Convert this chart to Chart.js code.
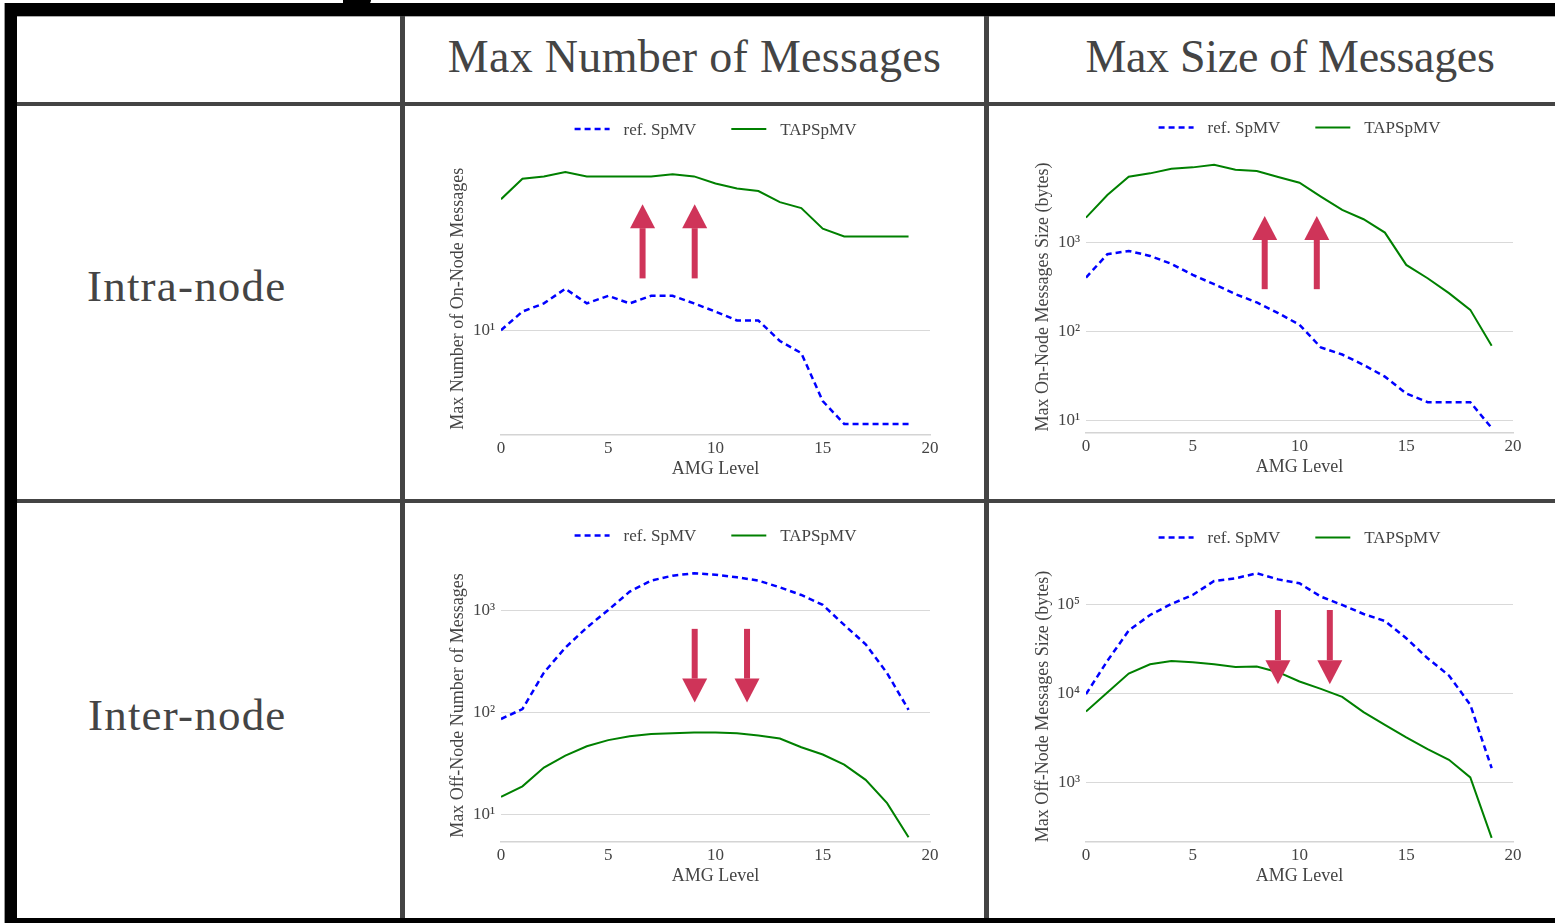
<!DOCTYPE html>
<html>
<head>
<meta charset="utf-8">
<script src="https://cdn.jsdelivr.net/npm/chart.js@4.4.1/dist/chart.umd.min.js"></script>
<style>
  html, body { margin:0; padding:0; background:#fff; }
  body { width:1555px; height:923px; position:relative; overflow:hidden; font-family:"Liberation Serif","Times New Roman",serif; }
  .bar { position:absolute; background:#000; }
  .ln { position:absolute; background:#444; }
  .txt { position:absolute; color:#444; white-space:nowrap; line-height:1; }
  .cv { position:absolute; }
</style>
</head>
<body>
<!-- frame -->
<div class="ln" style="left:4px;top:3px;width:1px;height:920px;background:#999"></div>
<div class="bar" style="left:5px;top:3px;width:1550px;height:13px"></div>
<div class="ln" style="left:17px;top:16px;width:1538px;height:1px;background:#aaa"></div>
<div class="bar" style="left:5px;top:3px;width:12px;height:920px"></div>
<div class="bar" style="left:343px;top:0px;width:28px;height:6px;border-radius:0 0 14px 6px"></div>
<div class="bar" style="left:5px;top:918px;width:1550px;height:5px"></div>
<div class="ln" style="left:400px;top:16px;width:5px;height:902px"></div>
<div class="ln" style="left:984px;top:16px;width:5px;height:902px"></div>
<div class="ln" style="left:17px;top:102px;width:1538px;height:4px"></div>
<div class="ln" style="left:17px;top:499px;width:1538px;height:4px"></div>

<div class="txt" id="h1" style="font-size:46px;top:34px;left:405px;width:579px;text-align:center;letter-spacing:0.3px">Max Number of Messages</div>
<div class="txt" id="h2" style="font-size:46px;top:34px;left:989px;width:602px;text-align:center;letter-spacing:-0.3px">Max Size of Messages</div>
<div class="txt" style="font-size:45px;top:264px;left:87px;letter-spacing:1.2px">Intra-node</div>
<div class="txt" style="font-size:45px;top:693px;left:88px;letter-spacing:1.2px">Inter-node</div>

<div class="cv" style="left:410px;top:108px"><canvas id="c1" width="570" height="390"></canvas></div>
<div class="cv" style="left:992px;top:108px"><canvas id="c2" width="560" height="388"></canvas></div>
<div class="cv" style="left:410px;top:505px"><canvas id="c3" width="570" height="400"></canvas></div>
<div class="cv" style="left:992px;top:505px"><canvas id="c4" width="560" height="400"></canvas></div>

<script>
// ---------------- data ----------------
const levels = [0,1,2,3,4,5,6,7,8,9,10,11,12,13,14,15,16,17,18,19];
const seriesNames = ['ref. SpMV', 'TAPSpMV'];
const xTicks = [0, 5, 10, 15, 20];
const xTitle = 'AMG Level';

// Intra-node, max number of messages
const intraNumRef = [10,12,13,15,13,14,13,14,14,13,12,11,11,9,8,5,4,4,4,4];
const intraNumTap = [36,44,45,47,45,45,45,45,46,45,42,40,39,35,33,27,25,25,25,25];
// Intra-node, max size of messages (bytes)
const intraSizeRef = [404,740,806,708,576,433,340,263,212,161,119,66,55,42,31,20,16,16,16,8.2];
const intraSizeTap = [1909,3433,5517,6012,6780,7020,7520,6610,6390,5470,4720,3290,2330,1830,1295,561,397,270,175,69];
// Inter-node, max number of messages
const interNumRef = [87,109,248,437,687,1023,1548,1983,2220,2340,2270,2140,1983,1706,1435,1146,729,471,245,107];
const interNumTap = [15,19,29,38,47,54,59,62,63,64,64,63,60,56,46,39,31,22,13,6];
// Inter-node, max size of messages (bytes)
const interSizeRef = [9790,23130,50700,75900,100900,127300,182700,195800,222900,190600,172100,121900,98400,77900,65000,41600,24800,15850,7430,1448];
const interSizeTap = [6255,10210,16680,21230,23130,22370,21230,19820,19990,17280,13590,11230,9140,6150,4430,3197,2364,1796,1138,238];

const yTitles = ['Max Number of On-Node Messages', 'Max On-Node Messages Size (bytes)',
                 'Max Off-Node Number of Messages', 'Max Off-Node Messages Size (bytes)'];
const yTicks1 = [10];
const yTicks2 = [10, 100, 1000];
const yTicks3 = [10, 100, 1000];
const yTicks4 = [1000, 10000, 100000];
const yRange1 = [3.59, 51.5];
const yRange2 = [7.2, 8280];
const yRange3 = [5.4, 2580];
const yRange4 = [214, 236600];
// annotation arrows in data coordinates: [level, fromValue, toValue]
const arrows1 = [[6.6, 16.6, 34.3], [9.03, 16.6, 34.3]];
const arrows2 = [[8.37, 299, 1995], [10.81, 299, 1995]];
const arrows3 = [[9.03, 667, 126], [11.47, 667, 126]];
const arrows4 = [[8.99, 86300, 12680], [11.42, 86300, 12680]];

// ---------------- rendering ----------------
const FONT = '"Liberation Serif", "Times New Roman", serif';
const TXT = '#444';
const SUP = {'0':'\u2070','1':'\u00b9','2':'\u00b2','3':'\u00b3','4':'\u2074','5':'\u2075','6':'\u2076','7':'\u2077','8':'\u2078','9':'\u2079'};
function decadeLabel(v) {
  const e = Math.round(Math.log10(v));
  return '10' + String(e).split('').map(c => SUP[c] || c).join('');
}

const arrowPlugin = {
  id: 'annoArrows',
  afterDatasetsDraw(chart, args, opts) {
    const {ctx, scales: {x, y}} = chart;
    ctx.save();
    ctx.fillStyle = '#CF3459';
    (opts.list || []).forEach(a => {
      const px = x.getPixelForValue(a[0]);
      const yTail = y.getPixelForValue(a[1]);
      const yTip = y.getPixelForValue(a[2]);
      const dir = Math.sign(yTip - yTail);
      const headLen = 24, headW = 25, shaftW = 6;
      const base = yTip - dir * headLen;
      ctx.fillRect(px - shaftW / 2, Math.min(yTail, base), shaftW, Math.abs(base - yTail));
      ctx.beginPath();
      ctx.moveTo(px - headW / 2, base);
      ctx.lineTo(px + headW / 2, base);
      ctx.lineTo(px, yTip);
      ctx.closePath();
      ctx.fill();
    });
    ctx.restore();
  }
};

const legendPlugin = {
  id: 'centerLegend',
  afterDraw(chart) {
    const {ctx, chartArea} = chart;
    ctx.save();
    ctx.font = '17px ' + FONT;
    const sample = 35, gapT = 14, gapI = 35;
    const ds = chart.data.datasets;
    const widths = ds.map(d => ctx.measureText(d.label).width);
    let total = widths.reduce((s, w) => s + sample + gapT + w, 0) + gapI * (ds.length - 1);
    let xx = (chartArea.left + chartArea.right) / 2 - total / 2;
    const yy = chartArea.top - 33.5;
    ds.forEach((d, i) => {
      ctx.strokeStyle = d.borderColor;
      ctx.lineWidth = d.borderWidth;
      ctx.setLineDash(d.borderDash || []);
      ctx.beginPath();
      ctx.moveTo(xx, yy);
      ctx.lineTo(xx + sample, yy);
      ctx.stroke();
      ctx.setLineDash([]);
      ctx.fillStyle = TXT;
      ctx.textBaseline = 'middle';
      ctx.textAlign = 'left';
      ctx.fillText(d.label, xx + sample + gapT, yy + 1);
      xx += sample + gapT + widths[i] + gapI;
    });
    ctx.restore();
  }
};

function makeChart(id, geo, refVals, tapVals, yTitle, yTickVals, yRange, arrows) {
  // geo: canvas left/top/width and desired chart-area edges (page px)
  const yAxisW = geo.areaLeft - geo.left;
  const padTop = geo.areaTop - geo.top;
  const padRight = geo.left + geo.width - geo.areaRight;
  const titleFont = 18;
  const ctx = document.getElementById(id);
  return new Chart(ctx, {
    type: 'line',
    data: {
      datasets: [
        { label: seriesNames[0], data: levels.map((l, i) => ({x: l, y: refVals[i]})),
          borderColor: '#0000ff', borderWidth: 2.5, borderDash: [6, 4], pointRadius: 0, tension: 0, fill: false },
        { label: seriesNames[1], data: levels.map((l, i) => ({x: l, y: tapVals[i]})),
          borderColor: '#008000', borderWidth: 2, pointRadius: 0, tension: 0, fill: false }
      ]
    },
    options: {
      responsive: false,
      animation: false,
      devicePixelRatio: 1,
      layout: { padding: { left: 0, top: padTop, right: padRight, bottom: 0 } },
      plugins: {
        legend: { display: false },
        tooltip: { enabled: false },
        annoArrows: { list: arrows }
      },
      scales: {
        x: {
          type: 'linear', min: 0, max: 20,
          afterBuildTicks: s => { s.ticks = xTicks.map(v => ({value: v})); },
          afterFit: s => { s.height = 63; },
          grid: { display: false, drawTicks: false },
          border: { display: true, color: '#d4d4d4', width: 1.5 },
          ticks: { color: TXT, font: { family: FONT, size: 17 }, padding: 3, maxRotation: 0, autoSkip: false },
          title: { display: true, text: xTitle, color: TXT, font: { family: FONT, size: titleFont },
                   padding: { top: 0, bottom: 18.2 } }
        },
        y: {
          type: 'logarithmic', min: yRange[0], max: yRange[1],
          afterBuildTicks: s => { s.ticks = yTickVals.map(v => ({value: v})); },
          afterFit: s => { s.width = yAxisW; },
          grid: { color: '#d9d9d9', lineWidth: 1, drawTicks: false },
          border: { display: false },
          ticks: { color: TXT, font: { family: FONT, size: 17 }, padding: 6, autoSkip: false,
                   callback: v => decadeLabel(v) },
          title: { display: true, text: yTitle, color: TXT, font: { family: FONT, size: titleFont },
                   padding: { top: yAxisW - 43 - titleFont * 0.6, bottom: 0 } }
        }
      }
    },
    plugins: [arrowPlugin, legendPlugin]
  });
}

makeChart('c1', {left: 410, top: 108, width: 570, areaLeft: 501, areaRight: 930, areaTop: 162.6},
          intraNumRef, intraNumTap, yTitles[0], yTicks1, yRange1, arrows1);
makeChart('c2', {left: 992, top: 108, width: 560, areaLeft: 1086, areaRight: 1513, areaTop: 161},
          intraSizeRef, intraSizeTap, yTitles[1], yTicks2, yRange2, arrows2);
makeChart('c3', {left: 410, top: 505, width: 570, areaLeft: 501, areaRight: 930, areaTop: 569},
          interNumRef, interNumTap, yTitles[2], yTicks3, yRange3, arrows3);
makeChart('c4', {left: 992, top: 505, width: 560, areaLeft: 1086, areaRight: 1513, areaTop: 571},
          interSizeRef, interSizeTap, yTitles[3], yTicks4, yRange4, arrows4);
</script>
</body>
</html>
